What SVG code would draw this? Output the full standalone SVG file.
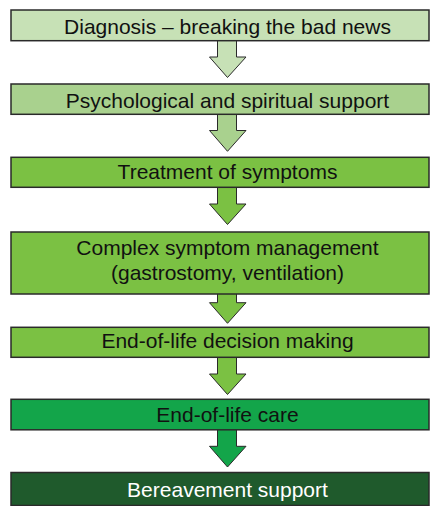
<svg xmlns="http://www.w3.org/2000/svg" width="430" height="506" viewBox="0 0 430 506">
<style>
.box{stroke:#2a2a2a;stroke-width:1.5}
.arr{stroke:#2a2a2a;stroke-width:1;stroke-linejoin:miter}
.t{font-family:"Liberation Sans",Arial,sans-serif;font-size:21px;fill:#111;text-anchor:middle}
.w{fill:#fff}
.c1{fill:#c7e1b6}.c2{fill:#a9d18e}.c3{fill:#7bc143}.c6{fill:#13a54a}.c7{fill:#1f5a2c}
</style>
<rect width="430" height="506" fill="#fff"/>
<g id="connectors">
<path class="arr c1" d="M217.5,40.5 V57 H209.5 L227.5,77.5 L246,57 H236.5 V40.5"/>
<path class="arr c2" d="M217.5,114 V130.5 H209.5 L227.5,151.3 L246,130.5 H236.5 V114"/>
<path class="arr c3" d="M217.5,187.3 V204 H209.5 L227.5,224.5 L246,204 H236.5 V187.3"/>
<path class="arr c3" d="M217.5,294 V302.7 H209.5 L227.5,323.3 L246,302.7 H236.5 V294"/>
<path class="arr c3" d="M217.5,357.3 V374 H209.5 L227.5,394.5 L246,374 H236.5 V357.3"/>
<path class="arr c6" d="M217.5,429.7 V446.3 H209.5 L227.5,467 L246,446.3 H236.5 V429.7"/>
</g>
<g id="n1"><rect class="box c1" x="11" y="10" width="418" height="30.7"/><text class="t" x="227.5" y="33.5">Diagnosis – breaking the bad news</text></g>
<g id="n2"><rect class="box c2" x="11" y="84" width="418" height="30.3"/><text class="t" x="227.5" y="107.5">Psychological and spiritual support</text></g>
<g id="n3"><rect class="box c3" x="11" y="157.3" width="418" height="30"/><text class="t" x="227.5" y="179">Treatment of symptoms</text></g>
<g id="n4"><rect class="box c3" x="11" y="232" width="418" height="62"/><text class="t" x="227.5" y="255">Complex symptom management</text><text class="t" x="227.5" y="280">(gastrostomy, ventilation)</text></g>
<g id="n5"><rect class="box c3" x="11" y="327.3" width="418" height="30"/><text class="t" x="227.5" y="348">End-of-life decision making</text></g>
<g id="n6"><rect class="box c6" x="11" y="399.3" width="418" height="30.5"/><text class="t" x="227.5" y="421.5">End-of-life care</text></g>
<g id="n7"><rect class="box c7" x="11" y="472.5" width="418" height="33"/><text class="t w" x="227.5" y="497">Bereavement support</text></g>
</svg>
